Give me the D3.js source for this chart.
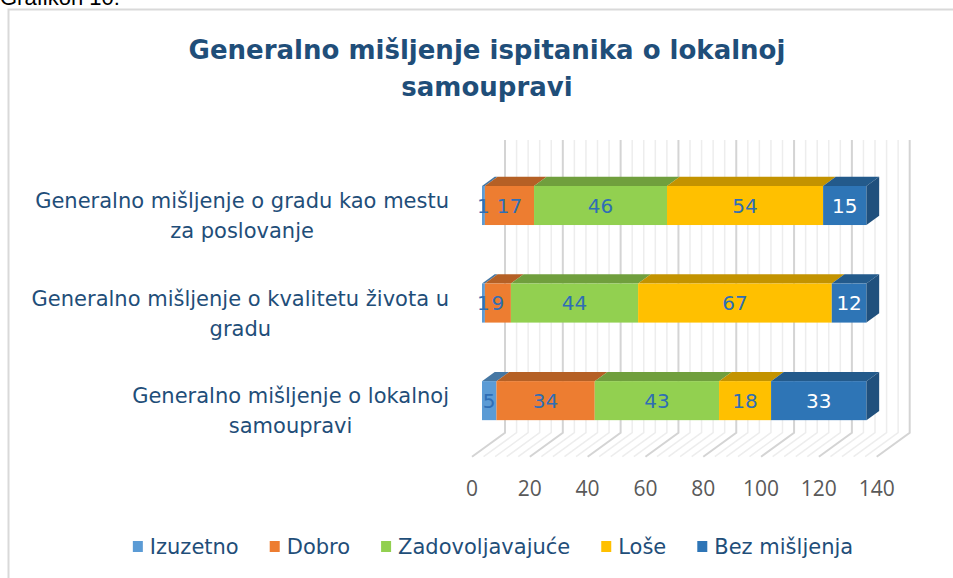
<!DOCTYPE html>
<html lang="sr">
<head>
<meta charset="utf-8">
<title>Generalno mišljenje ispitanika o lokalnoj samoupravi</title>
<script src="https://d3js.org/d3.v7.min.js"></script>
<style>
  body { margin: 0; background: #fff; }
  .title { font: bold 26px "DejaVu Sans", sans-serif; fill: #1f4e79; }
  .cat { font: 21px "DejaVu Sans", sans-serif; fill: #1f4e79; }
  .val { font: 20px "DejaVu Sans", sans-serif; }
  .tick { font: 21px "Open Sans", sans-serif; fill: #595959; }
  .legend text { font: 21px "DejaVu Sans", sans-serif; fill: #1f4e79; }
</style>
</head>
<body>
<svg width="953" height="578"></svg>
<script>
// categories, top to bottom as shown
var categories = ["grad_posao", "kvalitet", "samouprava"];
var categoryLines = [
  ["Generalno mišljenje o gradu kao mestu", "za poslovanje"],
  ["Generalno mišljenje o kvalitetu života u", "gradu"],
  ["Generalno mišljenje o lokalnoj", "samoupravi"]
];
var seriesNames = ["Izuzetno", "Dobro", "Zadovoljavajuće", "Loše", "Bez mišljenja"];
var izuzetno        = [1, 1, 5];
var dobro           = [17, 9, 34];
var zadovoljavajuce = [46, 44, 43];
var lose            = [54, 67, 18];
var bezMisljenja    = [15, 12, 33];
var tickValues = [0, 20, 40, 60, 80, 100, 120, 140];
var colors = ["#5b9bd5", "#ed7d31", "#92d050", "#ffc000", "#2e75b6"];

var rows = categories.map(function(c, i) {
  return {cat: c, "Izuzetno": izuzetno[i], "Dobro": dobro[i], "Zadovoljavajuće": zadovoljavajuce[i],
          "Loše": lose[i], "Bez mišljenja": bezMisljenja[i]};
});

var svg = d3.select("svg");
svg.append("rect").attr("width", 953).attr("height", 578).attr("fill", "#fff");

// caption above the chart box (cut off at top, as in the source)
svg.append("text").attr("x", 0).attr("y", 5)
  .style("font", "22px 'Liberation Sans', sans-serif").attr("fill", "#000")
  .text("Grafikon 10:");

// chart border
svg.append("rect").attr("x", 8.5).attr("y", 9.5).attr("width", 960).attr("height", 600)
  .attr("fill", "none").attr("stroke", "#d9d9d9").attr("stroke-width", 2);

// title
var title = svg.append("text").attr("class", "title").attr("text-anchor", "middle");
title.append("tspan").attr("x", 487).attr("y", 59).text("Generalno mišljenje ispitanika o lokalnoj");
title.append("tspan").attr("x", 487).attr("y", 96).text("samoupravi");

// oblique 3d projection: depth 0 = front floor edge, 1 = back wall
var DX = 33, DY = -24;
var x = d3.scaleLinear().domain([0, 140]).range([472, 876.7]);
var y = d3.scaleBand().domain(categories).range([164, 456.7]).paddingInner(0.6).paddingOuter(0.3);
var floorY = 456.7, topY = 164;
var d1 = 0.303, d2 = 0.688;

function P(v, yy, d) { return [x(v) + d * DX, yy + d * DY]; }
function pts(a) { return a.map(function(p) { return p.join(","); }).join(" "); }

// back wall + floor gridlines
var grid = svg.append("g");
d3.range(0, 141, 4).forEach(function(v) {
  var major = v % 20 === 0;
  var a = P(v, topY, 1), b = P(v, floorY, 1), c = P(v, floorY, 0);
  grid.append("polyline")
    .attr("points", pts([a, b, c]))
    .attr("fill", "none")
    .attr("stroke", major ? "#d4d4d4" : "#ededed")
    .attr("stroke-width", major ? 2 : 1.5);
});

// stacked bars
var stack = d3.stack().keys(seriesNames);
var series = stack(rows);
var bars = svg.append("g");
var labels = svg.append("g");

rows.forEach(function(r, i) {
  var y0 = y(r.cat), y1 = y0 + y.bandwidth();
  series.forEach(function(s, k) {
    var seg = s[i], v0 = seg[0], v1 = seg[1];
    var col = d3.color(colors[k]);
    // top face
    bars.append("polygon")
      .attr("points", pts([P(v0, y0, d1), P(v1, y0, d1), P(v1, y0, d2), P(v0, y0, d2)]))
      .attr("fill", col.darker(0.75));
    // front face
    var f0 = P(v0, y0, d1), f1 = P(v1, y1, d1);
    bars.append("rect")
      .attr("x", f0[0]).attr("y", f0[1])
      .attr("width", f1[0] - f0[0]).attr("height", f1[1] - f0[1])
      .attr("fill", col);
    // right side of the last segment
    if (k === series.length - 1) {
      bars.append("polygon")
        .attr("points", pts([P(v1, y0, d1), P(v1, y0, d2), P(v1, y1, d2), P(v1, y1, d1)]))
        .attr("fill", col.darker(1.05));
    }
    labels.append("text")
      .attr("class", "val")
      .attr("text-anchor", "middle")
      .attr("x", (f0[0] + f1[0]) / 2)
      .attr("y", (f0[1] + f1[1]) / 2)
      .attr("dy", "0.36em")
      .attr("fill", k === series.length - 1 ? "#fff" : "#2f6eb5")
      .text(v1 - v0);
  });
});

// category labels, block right-aligned, lines centered
categories.forEach(function(c, i) {
  var cy = y(c) + y.bandwidth() / 2 + 3;
  var t = svg.append("text").attr("class", "cat").attr("text-anchor", "middle");
  var lines = categoryLines[i];
  lines.forEach(function(l, j) {
    t.append("tspan").attr("y", cy + (j - (lines.length - 1) / 2) * 30).attr("dy", "0.35em").text(l);
  });
  var w = d3.max(t.selectAll("tspan").nodes(), function(n) { return n.getComputedTextLength(); });
  t.selectAll("tspan").attr("x", 449 - w / 2);
});

// value axis labels along the front floor edge
svg.append("g").selectAll("text").data(tickValues).join("text")
  .attr("class", "tick")
  .attr("text-anchor", "middle")
  .attr("x", function(d) { return x(d); })
  .attr("y", 496)
  .text(function(d) { return d; });

// legend
var legend = svg.append("g").attr("class", "legend");
var items = legend.selectAll("g").data(seriesNames).join("g");
items.append("rect").attr("width", 10).attr("height", 11).attr("y", 541)
  .attr("fill", function(d, i) { return colors[i]; });
items.append("text").attr("x", 17).attr("y", 547).attr("dy", "0.35em").text(function(d) { return d; });
var gap = 31, xpos = 0;
items.each(function() {
  var g = d3.select(this);
  g.attr("transform", "translate(" + xpos + ",0)");
  xpos += 17 + g.select("text").node().getComputedTextLength() + gap;
});
var total = xpos - gap;
legend.attr("transform", "translate(" + (493 - total / 2) + ",0)");
</script>
</body>
</html>
